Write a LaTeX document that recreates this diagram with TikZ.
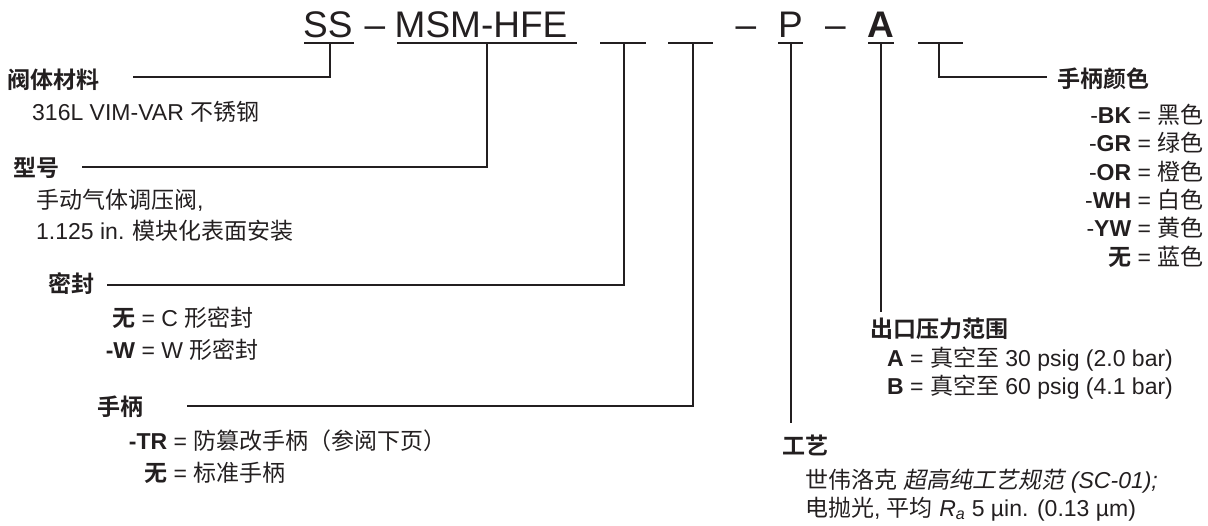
\documentclass[tikz,border=0pt]{standalone}
\usepackage{fontspec}
\setmainfont{Liberation Sans}
\newfontfamily\zhfont{Noto Sans CJK SC}[BoldFont={Noto Sans CJK SC Bold}]
\newfontfamily\zhifont{Noto Sans CJK SC}[FakeSlant=0.2]
\newcommand\zh[1]{{\zhfont #1}}
\newcommand\zhb[1]{{\zhfont\bfseries #1}}
\newcommand\zhi[1]{{\zhifont #1}}
\definecolor{ink}{HTML}{231F20}
\tikzset{
  ttl/.style={inner sep=0pt, text=ink, font=\fontsize{37}{40}\selectfont},
  txt/.style={inner sep=0pt, anchor=base west, text=ink, font=\fontsize{23}{28}\selectfont},
  hd/.style={txt},
  ln/.style={draw=ink, line width=2pt},
}
\begin{document}
\begin{tikzpicture}[x=1pt, y=-1pt]
\useasboundingbox (0,0) rectangle (1208,525);

% title
\node[ttl, anchor=base west] (ss)  at (303,37) {SS};
\node[ttl, anchor=base]      (d1)  at (375,37) {–};
\node[ttl, anchor=base west] (msm) at (394.5,37) {MSM-HFE};
\node[ttl, anchor=base]      (d2)  at (746,37) {–};
\node[ttl, anchor=base]      (p)   at (790.5,37) {P};
\node[ttl, anchor=base]      (d3)  at (835.5,37) {–};
\node[ttl, anchor=base]      (a)   at (881,37) {\bfseries A};

% underlines
\draw[ln] (304,43) -- (354,43);
\draw[ln] (397,43) -- (577,43);
\draw[ln] (600,43) -- (646,43);
\draw[ln] (668,43) -- (713,43);
\draw[ln] (778,43) -- (803,43);
\draw[ln] (868,43) -- (894,43);
\draw[ln] (918,43) -- (963,43);

\coordinate (t1) at (330,43);
\coordinate (t2) at (487,43);
\coordinate (t3) at (624,43);
\coordinate (t4) at (693,43);
\coordinate (t5) at (791,43);
\coordinate (t6) at (881,43);
\coordinate (t7) at (939,43);

% 1 body material
\node[hd] (l1) at (7,88) {\zhb{阀体材料}};
\node[txt] (l1a) at (32,120) {316L VIM-VAR \zh{不锈钢}};
\coordinate (e1) at (133,77);
\draw[ln] (t1) |- (e1);

% 2 model
\node[hd] (l2) at (13,176) {\zhb{型号}};
\node[txt] (l2a) at (36,208) {\zh{手动气体调压阀},};
\node[txt] (l2b) at (36,239) {1.125 in. \zh{模块化表面安装}};
\coordinate (e2) at (82,167);
\draw[ln] (t2) |- (e2);

% 3 seal
\node[hd] (l3) at (48,292) {\zhb{密封}};
\node[txt] (l3a) at (135,326) {\llap{\zhb{无}} = C \zh{形密封}};
\node[txt] (l3b) at (135,358) {\llap{\textbf{-W}} = W \zh{形密封}};
\coordinate (e3) at (107,285);
\draw[ln] (t3) |- (e3);

% 4 handle
\node[hd] (l4) at (97,415) {\zhb{手柄}};
\node[txt] (l4a) at (167,449) {\llap{\textbf{-TR}} = \zh{防篡改手柄（参阅下页）}};
\node[txt] (l4b) at (167,481) {\llap{\zhb{无}} = \zh{标准手柄}};
\coordinate (e4) at (187,406);
\draw[ln] (t4) |- (e4);

% 5 process
\node[hd] (l5) at (782,454) {\zhb{工艺}};
\node[txt] (l5a) at (805,488) {\zh{世伟洛克} \zhi{超高纯工艺规范} \textit{(SC-01);}};
\node[txt] (l5b) at (805,516) {\zh{电抛光}, \zh{平均} \textit{R}\textsubscript{\textit{a}} 5 µin. (0.13 µm)};
\coordinate (e5) at (791,423);
\draw[ln] (t5) -- (e5);

% 6 outlet pressure
\node[hd] (l6) at (870,337) {\zhb{出口压力范围}};
\node[txt] (l6a) at (887,366) {\textbf{A} = \zh{真空至} 30 psig (2.0 bar)};
\node[txt] (l6b) at (887,394) {\textbf{B} = \zh{真空至} 60 psig (4.1 bar)};
\coordinate (e6) at (881,312);
\draw[ln] (t6) -- (e6);

% 7 handle colour
\node[hd] (l7) at (1057,87) {\zhb{手柄颜色}};
\node[txt] (c1) at (1131,123) {\llap{-\textbf{BK}} = \zh{黑色}};
\node[txt] (c2) at (1131,151) {\llap{-\textbf{GR}} = \zh{绿色}};
\node[txt] (c3) at (1131,180) {\llap{-\textbf{OR}} = \zh{橙色}};
\node[txt] (c4) at (1131,208) {\llap{-\textbf{WH}} = \zh{白色}};
\node[txt] (c5) at (1131,236) {\llap{-\textbf{YW}} = \zh{黄色}};
\node[txt] (c6) at (1131,265) {\llap{\zhb{无}} = \zh{蓝色}};
\coordinate (e7) at (1047,77);
\draw[ln] (t7) |- (e7);
\end{tikzpicture}
\end{document}
